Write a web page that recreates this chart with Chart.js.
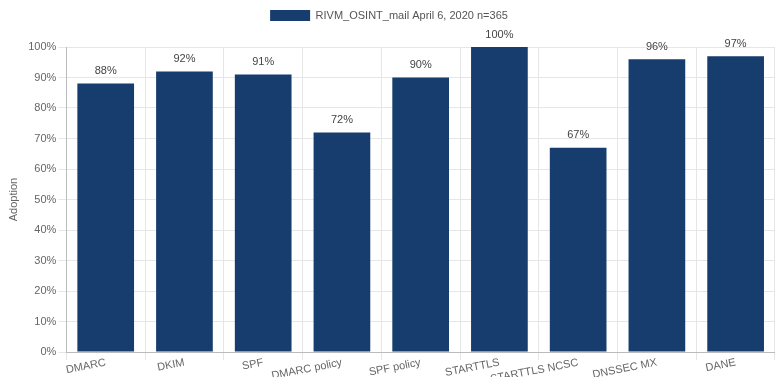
<!DOCTYPE html>
<html>
<head>
<meta charset="utf-8">
<script src="https://cdn.jsdelivr.net/npm/chart.js@4/dist/chart.umd.min.js"></script>
<style>
  html, body { margin: 0; padding: 0; background: #fff; }
  #wrap { width: 775px; height: 377px; }
</style>
</head>
<body>
<div id="wrap"><canvas id="adoptionChart" width="775" height="377"></canvas></div>
<script>
const categories = ['DMARC', 'DKIM', 'SPF', 'DMARC policy', 'SPF policy', 'STARTTLS', 'STARTTLS NCSC', 'DNSSEC MX', 'DANE'];
const adoption = [88, 92, 91, 72, 90, 100, 67, 96, 97];
const seriesLabel = 'RIVM_OSINT_mail April 6, 2020 n=365';
const yTicks = [0, 10, 20, 30, 40, 50, 60, 70, 80, 90, 100];

// draws the "88%" labels above each bar
const valueLabels = {
  id: 'valueLabels',
  afterDatasetsDraw(chart) {
    const ctx = chart.ctx;
    const meta = chart.getDatasetMeta(0);
    ctx.save();
    ctx.font = '11px "Liberation Sans", Arial, sans-serif';
    ctx.fillStyle = '#444';
    ctx.textAlign = 'center';
    ctx.textBaseline = 'bottom';
    meta.data.forEach((bar, i) => {
      ctx.fillText(adoption[i] + '%', bar.x, bar.y - 7);
    });
    ctx.restore();
  }
};

// extra room under the legend so the 100% label fits
const legendGap = {
  id: 'legendGap',
  beforeInit(chart) {
    const origFit = chart.legend.fit;
    chart.legend.fit = function () {
      origFit.call(this);
      this.height += 16;
    };
  }
};

Chart.defaults.font.family = '"Liberation Sans", Arial, sans-serif';
Chart.defaults.font.size = 11;
Chart.defaults.color = '#666';

new Chart(document.getElementById('adoptionChart'), {
  type: 'bar',
  data: {
    labels: categories,
    datasets: [{
      label: seriesLabel,
      data: adoption,
      backgroundColor: '#173d6e',
      borderWidth: 0
    }]
  },
  options: {
    responsive: false,
    animation: false,
    layout: { padding: { top: 0, right: 0, left: 3, bottom: 0 } },
    plugins: {
      legend: {
        labels: { boxWidth: 40, boxHeight: 11, color: '#555', padding: 10 }
      },
      tooltip: { enabled: false }
    },
    scales: {
      x: {
        grid: { color: '#e6e6e6', tickLength: 8 },
        border: { color: '#bbb' },
        ticks: { autoSkip: false, minRotation: 11, maxRotation: 11, color: '#666', padding: -4 },
        afterFit(axis) { axis.height = 25; }
      },
      y: {
        min: 0,
        max: 100,
        afterBuildTicks(axis) { axis.ticks = yTicks.map(v => ({ value: v })); },
        grid: { color: '#e6e6e6', tickLength: 8 },
        border: { color: '#bbb' },
        ticks: { callback: v => v + '%', color: '#666', padding: 2 },
        title: { display: true, text: 'Adoption', color: '#666', padding: { top: 4, bottom: 6 } }
      }
    }
  },
  plugins: [valueLabels, legendGap]
});
</script>
</body>
</html>
